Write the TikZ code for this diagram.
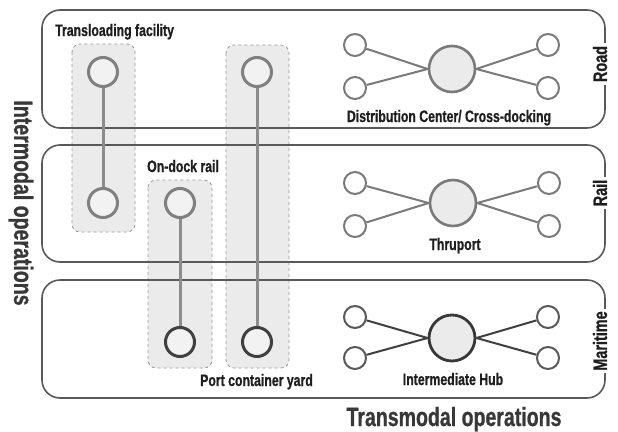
\documentclass[tikz,border=0pt]{standalone}
\usepackage{fontspec}
\setmainfont{Liberation Sans}[FakeStretch=0.74, BoldFeatures={FakeBold=0.8}]
\begin{document}
\begin{tikzpicture}[x=1pt,y=-1pt,
  txt/.style={text=black!88, font=\bfseries\fontsize{16.6}{16.6}\selectfont, inner sep=0pt},
  ttl/.style={text=black!78, font=\bfseries\fontsize{26.4}{26.4}\selectfont, inner sep=0pt},
  modelbl/.style={text=black!88, font=\bfseries\fontsize{19.5}{19.5}\selectfont, fill=white, inner sep=2.5pt, rotate=90},
  band/.style={draw=black!65, line width=1.6pt, rounded corners=18pt},
  shade/.style={draw=black!40, dashed, line width=0.8pt, fill=black!8, rounded corners=8pt},
  colnode/.style={circle, draw=black!50, line width=3pt, fill=black!5, minimum size=29pt, inner sep=0pt},
  colnodedark/.style={circle, draw=black!75, line width=3pt, fill=black!5, minimum size=29pt, inner sep=0pt},
  colline/.style={draw=black!45, line width=3pt},
  hub/.style={circle, draw=black!52, line width=2.6pt, fill=black!8, minimum size=46pt, inner sep=0pt},
  hubdark/.style={circle, draw=black!78, line width=2.8pt, fill=black!8, minimum size=46pt, inner sep=0pt},
  leaf/.style={circle, draw=black!52, line width=2pt, fill=white, minimum size=22pt, inner sep=0pt},
  leafdark/.style={circle, draw=black!65, line width=2pt, fill=white, minimum size=22pt, inner sep=0pt},
  spoke/.style={draw=black!52, line width=2pt},
  spokedark/.style={draw=black!75, line width=2pt}]
\useasboundingbox (0,0) rectangle (618,431);
\fill[white] (0,0) rectangle (618,431);

% shaded groups
\path[shade] (72,44) rectangle (135,232);
\path[shade] (148,180) rectangle (212,368);
\path[shade] (226,45) rectangle (289,368);

% bands
\path[band] (42,10) rectangle (605,128);
\path[band] (42,145) rectangle (605,262);
\path[band] (42,280) rectangle (605,398);

% mode labels
\node[modelbl] (road) at (600,64) {Road};
\node[modelbl] (rail) at (600,193) {Rail};
\node[modelbl] (mar) at (600,341) {Maritime};

% column nodes
\node[colnode] (c1a) at (103,72) {};
\node[colnode] (c1b) at (103,203) {};
\node[colnode] (c2a) at (180,203) {};
\node[colnodedark] (c2b) at (180,342) {};
\node[colnode] (c3a) at (257,72) {};
\node[colnodedark] (c3b) at (257,342) {};
\draw[colline] (c1a) -- (c1b);
\draw[colline] (c2a) -- (c2b);
\draw[colline] (c3a) -- (c3b);

% road hub
\node[hub] (h1) at (452,69) {};
\node[leaf] (h1a) at (355,45) {};
\node[leaf] (h1b) at (355,88) {};
\node[leaf] (h1c) at (548,45) {};
\node[leaf] (h1d) at (548,88) {};
\draw[spoke] (h1a) -- (h1.west);
\draw[spoke] (h1b) -- (h1.west);
\draw[spoke] (h1c) -- (h1.east);
\draw[spoke] (h1d) -- (h1.east);

% rail hub
\node[hub] (h2) at (453,203) {};
\node[leaf] (h2a) at (355,183) {};
\node[leaf] (h2b) at (355,226) {};
\node[leaf] (h2c) at (549,183) {};
\node[leaf] (h2d) at (549,226) {};
\draw[spoke] (h2a) -- (h2.west);
\draw[spoke] (h2b) -- (h2.west);
\draw[spoke] (h2c) -- (h2.east);
\draw[spoke] (h2d) -- (h2.east);

% maritime hub
\node[hubdark] (h3) at (452,338) {};
\node[leafdark] (h3a) at (355,317) {};
\node[leafdark] (h3b) at (355,358) {};
\node[leafdark] (h3c) at (548,317) {};
\node[leafdark] (h3d) at (548,358) {};
\draw[spokedark] (h3a) -- (h3.west);
\draw[spokedark] (h3b) -- (h3.west);
\draw[spokedark] (h3c) -- (h3.east);
\draw[spokedark] (h3d) -- (h3.east);

% labels
\node[txt, anchor=base west] (lt) at (55,36) {Transloading facility};
\node[txt, anchor=base west] (lo) at (147,172) {On-dock rail};
\node[txt, anchor=base west] (lp) at (200,386) {Port container yard};
\node[txt, anchor=base] (ld) at (449,122) {Distribution Center/ Cross-docking};
\node[txt, anchor=base] (lr) at (455,250) {Thruport};
\node[txt, anchor=base] (lh) at (453,385) {Intermediate Hub};

% titles
\node[ttl, anchor=base] (tt) at (454,426) {Transmodal operations};
\node[ttl, rotate=-90] (ti) at (21,203) {Intermodal operations};
\end{tikzpicture}
\end{document}
